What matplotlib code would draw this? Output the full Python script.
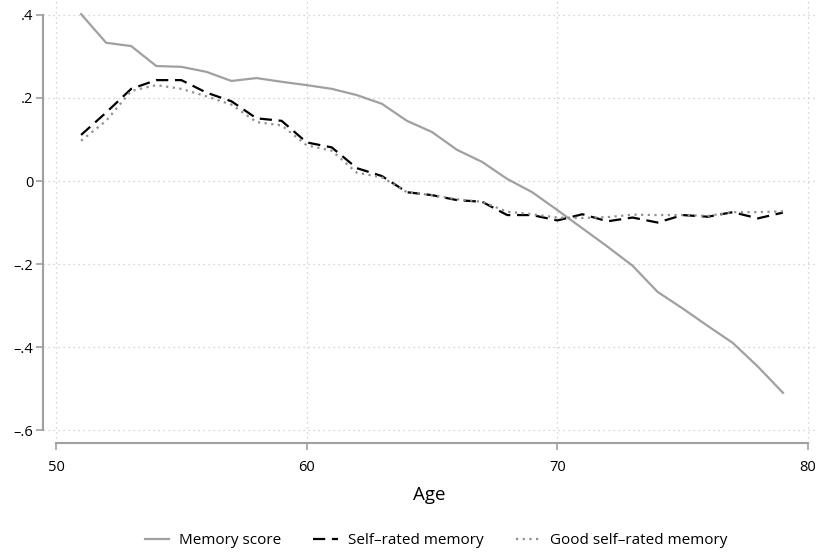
import matplotlib
matplotlib.use("Agg")
import matplotlib.pyplot as plt
import numpy as np

ages = list(range(51, 80))
memory_score = [0.402, 0.333, 0.325, 0.277, 0.275, 0.263, 0.241, 0.248, 0.239, 0.231,
                0.222, 0.207, 0.186, 0.145, 0.118, 0.075, 0.046, 0.005, -0.027, -0.070,
                -0.114, -0.158, -0.204, -0.267, -0.307, -0.349, -0.390, -0.447, -0.510]
self_rated = [0.111, 0.165, 0.222, 0.243, 0.243, 0.213, 0.192, 0.151, 0.145, 0.093,
              0.081, 0.031, 0.012, -0.027, -0.034, -0.046, -0.050, -0.082, -0.082, -0.095,
              -0.080, -0.097, -0.088, -0.100, -0.082, -0.086, -0.075, -0.090, -0.076]
good_self_rated = [0.097, 0.145, 0.217, 0.231, 0.222, 0.204, 0.184, 0.142, 0.134, 0.086,
                   0.073, 0.020, 0.009, -0.027, -0.034, -0.044, -0.050, -0.074, -0.080, -0.088,
                   -0.089, -0.087, -0.081, -0.082, -0.082, -0.084, -0.075, -0.075, -0.073]
xticks = [50, 60, 70, 80]
yticks = [-0.6, -0.4, -0.2, 0.0, 0.2, 0.4]
ytick_labels = ["\u2013.6", "\u2013.4", "\u2013.2", "0", ".2", ".4"]

plt.rcParams['font.family'] = ['Open Sans', 'DejaVu Sans']
fig = plt.figure(figsize=(8.17, 5.52), dpi=100)
ax = fig.add_axes([43/817, (552-443)/552, (815-43)/817, 443/552])

spine_c = '#a0a0a0'
grid_c = '#c8c8c8'
ax.plot(ages, memory_score, color='#a0a0a0', lw=1.6, ls='-', label='Memory score')
ax.plot(ages, self_rated, color='black', lw=1.6, ls=(0, (5.5, 3)), label='Self\u2013rated memory')
ax.plot(ages, good_self_rated, color='#909090', lw=1.6, ls=(0, (1, 2)), label='Good self\u2013rated memory')

ax.set_xlim(49.481, 80.279)
ax.set_ylim(-0.631, 0.436)
ax.set_xticks(xticks)
ax.set_yticks(yticks)
ax.set_yticklabels(ytick_labels)
ax.grid(True, color=grid_c, ls=(0, (1, 3)), lw=0.9)
ax.set_axisbelow(True)

for s in ['top', 'right']:
    ax.spines[s].set_visible(False)
ax.spines['left'].set_bounds(-0.6, 0.4)
ax.spines['bottom'].set_bounds(50, 80)
for s in ['left', 'bottom']:
    ax.spines[s].set_color(spine_c)
    ax.spines[s].set_linewidth(1.5)
ax.tick_params(axis='both', colors=spine_c, labelcolor='black', length=5, width=1.2,
               labelsize=10.5, direction='out')
ax.tick_params(axis='x', pad=7)
ax.tick_params(axis='y', pad=2)

ax.set_xlabel('Age', fontsize=13.5, labelpad=8)

leg = fig.legend(loc='center', bbox_to_anchor=(436/817, (552-541)/552), ncol=3, frameon=False,
                 fontsize=11, handlelength=1.6, columnspacing=2.1, handletextpad=0.65)

fig.savefig('out.png', dpi=100)
